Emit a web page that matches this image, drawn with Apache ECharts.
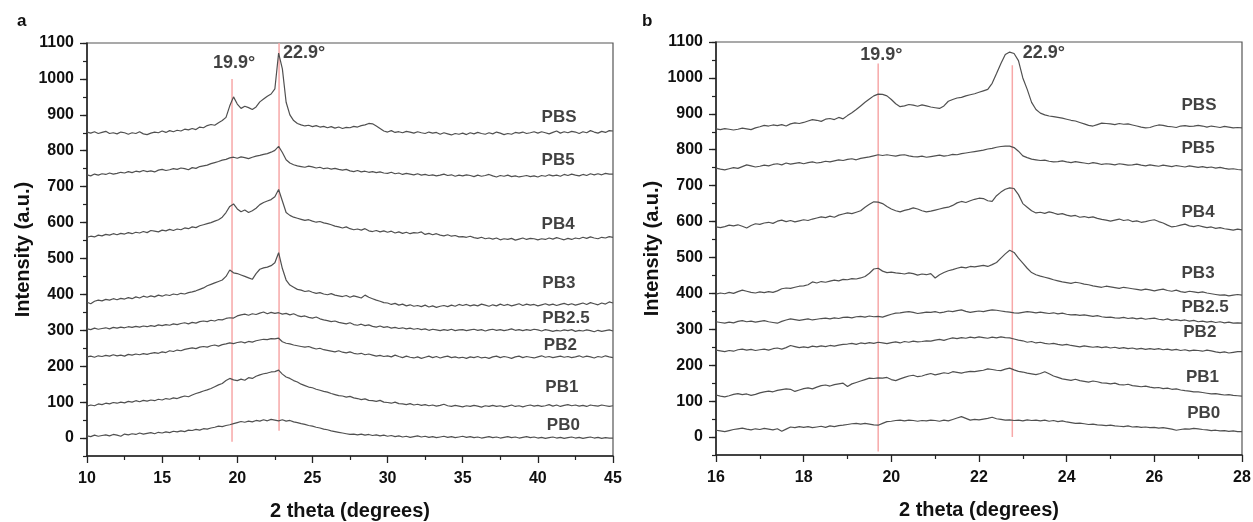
<!DOCTYPE html>
<html>
<head>
<meta charset="utf-8">
<script src="https://cdn.jsdelivr.net/npm/echarts@6/dist/echarts.min.js"></script>
<style>
html,body{margin:0;padding:0;background:#fff;}
#chart{width:1253px;height:522px;}
</style>
</head>
<body>
<div id="chart"></div>
<script>
// ---------- Panel a (10-45 degrees) ----------
const xL = [10,10.25,10.5,10.75,11,11.25,11.5,11.75,12,12.25,12.5,12.75,13,13.25,13.5,13.75,14,14.25,14.5,14.75,
15,15.25,15.5,15.75,16,16.25,16.5,16.75,17,17.25,17.5,17.75,18,18.25,18.5,18.75,19,19.25,19.5,19.75,
20,20.25,20.5,20.75,21,21.25,21.5,21.75,22,22.25,22.5,22.75,23,23.25,23.5,23.75,24,24.25,24.5,24.75,
25,25.25,25.5,25.75,26,26.25,26.5,26.75,27,27.25,27.5,27.75,28,28.25,28.5,28.75,29,29.25,29.5,29.75,
30,30.25,30.5,30.75,31,31.25,31.5,31.75,32,32.25,32.5,32.75,33,33.25,33.5,33.75,34,34.25,34.5,34.75,
35,35.25,35.5,35.75,36,36.25,36.5,36.75,37,37.25,37.5,37.75,38,38.25,38.5,38.75,39,39.25,39.5,39.75,
40,40.25,40.5,40.75,41,41.25,41.5,41.75,42,42.25,42.5,42.75,43,43.25,43.5,43.75,44,44.25,44.5,44.75,45];

const PBS_L = [852,849,853,848, 851,854,848,850, 847,852,850,846, 850,848,853,847, 845,849,852,850,
855,851,856,853, 857,855,860,858, 862,859,866,864, 870,873,871,878, 884,893,925,950,
930,918,924,920, 915,922,936,944, 952,958,972,1072, 1028,935,900,884, 876,872,869,871,
867,870,866,868, 864,867,863,866, 862,865,864,868, 866,870,872,876, 875,869,862,855,
852,856,851,853, 850,854,852,849, 853,850,848,852, 849,851,846,850, 847,844,848,846,
849,845,850,847, 851,848,846,850, 847,852,849,845, 848,846,851,849, 852,848,850,853,
849,853,850,847, 851,855,849,853, 850,854,852,848, 853,850,856,852, 849,854,851,856, 855];
const PB5_L = [733,730,735,732, 736,734,738,735, 737,740,738,742, 739,743,741,745, 742,744,741,746,
748,745,747,750, 748,752,750,747, 753,751,756,758, 760,764,767,770, 774,776,780,782,
779,783,781,778, 782,785,787,790, 792,796,801,812, 795,775,766,761, 758,756,754,757,
755,752,754,750, 752,749,751,748, 746,748,744,742, 745,741,743,740, 742,739,741,738,
737,740,736,738, 734,737,735,733, 736,732,734,731, 733,730,732,735, 731,733,729,732,
730,733,731,728, 732,729,731,734, 730,727,731,729, 732,728,730,727, 729,731,728,730,
727,731,729,733, 730,732,729,734, 731,735,732,730, 734,731,736,733, 736,733,737,735, 735];
const PB4_L = [559,562,560,565, 563,567,565,569, 566,570,568,572, 569,573,571,575, 572,578,576,574,
579,577,581,578, 582,580,585,583, 588,586,591,594, 597,600,604,608, 615,628,645,652,
638,630,635,628, 633,640,650,656, 660,664,672,692, 660,628,620,615, 612,609,606,608,
604,601,603,599, 597,594,590,588, 585,588,583,580, 582,579,583,577, 575,578,574,577,
573,576,571,574, 570,573,569,572, 571,574,567,570, 566,569,565,563, 566,562,564,560,
561,559,562,558, 556,559,555,557, 554,557,552,555, 553,556,551,554, 557,553,556,555,
552,555,553,557, 554,558,555,552, 556,553,557,555, 559,556,560,557, 555,559,557,561, 559];
const PB3_L = [378,374,381,384, 382,386,384,388, 385,389,387,391, 388,393,390,395, 392,396,393,398,
395,399,397,401, 399,403,401,405, 407,410,414,418, 424,428,432,436, 440,450,468,460,
458,454,450,446, 442,458,470,474, 476,480,488,516, 472,440,426,420, 414,412,408,410,
406,403,405,401, 399,402,398,396, 394,397,392,396, 393,390,398,392, 388,384,381,377,
376,372,375,370, 373,368,371,367, 369,366,370,365, 368,364,367,369, 366,370,367,372,
369,372,368,371, 368,373,370,367, 371,368,373,369, 372,368,371,374, 369,373,370,372,
368,371,374,370, 373,369,372,375, 371,374,370,373, 376,372,377,374, 371,376,373,379, 376];
const PB25_L = [304,302,306,303, 305,307,304,308, 306,309,307,310, 308,311,309,312, 310,313,311,315,
313,316,314,318, 316,319,321,318, 322,320,324,326, 324,328,326,330, 329,333,335,334,
340,343,345,342, 346,344,348,351, 346,350,347,349, 345,347,343,346, 341,338,340,336,
334,337,332,329, 327,324,326,322, 320,318,321,316, 314,317,313,315, 311,309,312,308,
310,306,308,305, 307,304,306,303, 305,302,304,300, 303,301,299,302, 300,303,299,301,
302,299,301,303, 300,302,298,301, 303,300,302,299, 301,304,300,302, 299,302,300,303,
301,298,302,300, 297,300,298,301, 299,302,297,300, 298,301,299,296, 300,297,299,301, 298];
const PB2_L = [226,228,225,229, 227,230,228,232, 229,231,228,233, 231,234,232,235, 233,236,238,236,
240,238,243,241, 245,243,247,249, 251,249,253,255, 253,257,259,256, 260,262,265,263,
266,268,265,269, 267,271,273,275, 274,277,276,278, 268,264,262,259, 257,255,253,255,
251,248,250,246, 244,242,240,243, 239,237,240,236, 234,236,232,234, 231,228,230,227,
229,226,231,227, 224,228,225,223, 226,222,225,228, 224,227,223,226, 228,224,226,223,
225,222,226,224, 227,223,225,222, 226,228,224,227, 225,222,226,228, 224,227,225,223,
226,229,225,227, 224,226,228,225, 227,224,226,229, 225,228,226,223, 227,225,229,226, 224];
const PB1_L = [89,92,90,95, 93,97,95,99, 97,100,98,102, 100,104,101,105, 103,106,104,108,
106,110,108,112, 110,114,117,115, 120,124,127,131, 134,138,143,148, 152,160,166,162,
160,164,161,168, 166,172,176,179, 181,184,185,189, 178,170,166,160, 156,150,146,142,
140,136,133,130, 128,124,121,118, 117,114,116,112, 110,107,109,105, 104,102,105,100,
99,97,100,96, 95,93,96,92, 94,91,93,90, 92,89,91,94, 90,88,91,89,
87,90,88,91, 89,86,90,88, 91,88,90,87, 89,92,88,90, 87,90,92,89,
91,88,90,93, 89,92,88,91, 93,90,92,89, 91,88,92,90, 89,92,90,88, 90];
const PB0_L = [6,4,8,5, 7,9,6,10, 8,5,11,9, 12,10,14,11, 13,15,12,16,
14,17,15,19, 17,20,18,22, 21,24,22,26, 25,28,30,33, 32,35,37,40,
43,46,44,47, 45,49,47,51, 48,52,50,48, 51,47,49,45, 43,40,38,35,
33,30,28,25, 23,20,18,16, 14,12,10,11, 9,11,8,10, 7,9,6,8,
5,7,4,6, 3,5,2,4, 6,3,5,2, 4,1,3,5, 2,4,1,3,
5,2,4,1, 3,0,2,4, 1,3,0,2, 4,1,3,0, 2,4,1,3,
0,2,-1,1, 3,0,2,-1, 1,3,0,2, -1,1,3,0, 2,-1,1,0, 0];

// ---------- Panel b (16-28 degrees) ----------
const xR = [16,16.1,16.2,16.3,16.4,16.5,16.6,16.7,16.8,16.9,17,17.1,17.2,17.3,17.4,17.5,17.6,17.7,17.8,17.9,
18,18.1,18.2,18.3,18.4,18.5,18.6,18.7,18.8,18.9,19,19.1,19.2,19.3,19.4,19.5,19.6,19.7,19.8,19.9,
20,20.1,20.2,20.3,20.4,20.5,20.6,20.7,20.8,20.9,21,21.1,21.2,21.3,21.4,21.5,21.6,21.7,21.8,21.9,
22,22.1,22.2,22.3,22.4,22.5,22.6,22.7,22.8,22.9,23,23.1,23.2,23.3,23.4,23.5,23.6,23.7,23.8,23.9,
24,24.1,24.2,24.3,24.4,24.5,24.6,24.7,24.8,24.9,25,25.1,25.2,25.3,25.4,25.5,25.6,25.7,25.8,25.9,
26,26.1,26.2,26.3,26.4,26.5,26.6,26.7,26.8,26.9,27,27.1,27.2,27.3,27.4,27.5,27.6,27.7,27.8,27.9,28];

const PBS_R = [858,856,859,857,855,857,860,858,856,861, 864,868,866,869,867,870,866,872,875,873,
876,880,884,882,879,885,887,884,890,886, 895,903,912,922,932,941,950,955,954,950,
940,928,920,922,926,924,921,925,922,919, 917,915,922,935,940,944,946,950,953,956,
960,964,968,985,1012,1040,1065,1072,1068,1048, 1000,968,932,912,902,897,894,892,890,888,
885,882,880,876,872,868,866,870,874,873, 872,870,873,871,872,869,866,863,861,862,
866,869,868,865,864,862,866,867,865,866, 868,866,863,866,864,862,865,863,861,862, 861];
const PB5_R = [749,746,744,747,750,748,753,758,755,752, 754,757,755,759,761,758,763,760,762,764,
761,764,766,763,765,768,766,769,772,770, 773,775,772,776,778,780,783,786,784,786,
784,782,785,786,783,781,780,782,779,781, 783,785,782,784,787,786,789,791,793,795,
797,799,802,804,807,809,810,810,806,796, 783,778,774,772,770,771,768,766,767,769,
766,764,767,765,763,761,764,762,759,761, 760,758,761,759,757,758,760,757,755,758,
756,754,757,755,753,756,754,752,755,753, 751,753,750,752,749,751,748,746,747,745, 744];
const PB4_R = [585,583,586,590,588,591,587,582,589,594, 592,596,598,595,601,604,600,603,599,602,
605,603,607,610,613,611,615,612,618,621, 624,622,626,630,640,648,655,654,650,642,
635,630,627,631,634,638,635,630,627,629, 632,635,638,640,645,652,656,653,658,662,
665,664,658,656,672,682,690,694,692,675, 650,640,630,624,626,623,627,624,620,622,
618,615,617,612,614,611,613,609,606,604, 601,604,607,603,605,600,602,598,600,603,
605,600,596,590,585,587,590,593,588,586, 589,586,583,585,581,583,580,578,576,579, 577];
const PB3_R = [398,401,399,403,400,405,409,406,403,401, 404,402,405,403,407,413,415,414,417,420,
421,424,432,429,433,431,434,437,435,439, 438,441,440,443,447,456,468,470,462,458,
459,457,456,454,457,455,451,454,452,455, 443,452,458,463,466,470,473,471,475,474,
476,478,475,480,486,498,510,520,514,498, 484,470,458,452,448,445,442,438,435,432,
430,428,431,429,426,424,421,419,417,420, 418,416,414,417,415,413,411,409,412,410,
407,410,412,408,406,409,405,403,406,404, 402,404,401,399,397,395,396,393,395,397, 395];
const PB25_R = [321,319,317,320,318,322,324,321,323,320, 322,324,321,319,317,322,326,329,327,325,
327,329,326,328,330,331,329,332,330,333, 334,332,335,336,334,337,335,336,334,338,
342,345,346,348,349,347,344,346,348,347, 349,346,348,351,349,352,354,350,347,349,
351,349,352,354,353,351,349,348,346,345, 347,349,348,346,348,346,344,346,343,345,
342,340,341,339,340,338,336,338,335,333, 334,332,331,333,330,332,329,331,328,330,
331,328,326,329,325,327,324,326,323,325, 321,323,320,322,319,321,318,320,317,318, 317];
const PB2_R = [242,240,238,241,239,243,245,242,244,241, 243,245,242,246,248,245,249,255,252,249,
251,249,253,251,254,252,255,253,256,258, 259,261,258,262,260,263,261,264,262,260,
263,265,262,266,264,267,265,266,268,267, 270,272,269,273,276,274,277,275,278,276,
279,277,275,278,276,279,277,276,273,270, 268,264,266,262,264,261,259,261,258,256,
258,255,253,251,254,252,250,252,249,251, 248,250,247,249,246,248,245,247,244,246,
244,246,243,245,242,244,241,243,240,242, 241,239,242,240,237,235,237,234,236,238, 238];
const PB1_R = [117,114,112,115,119,121,118,120,116,119, 123,126,128,126,130,132,134,133,127,131,
135,137,134,139,143,145,142,146,148,150, 141,148,152,156,160,164,163,165,164,166,
160,157,162,166,170,172,168,170,174,177, 173,176,179,177,182,180,178,181,183,182,
184,186,190,188,186,185,189,192,187,183, 181,178,176,174,177,182,176,170,166,162,
160,158,161,157,155,153,156,154,151,150, 148,150,146,145,147,143,142,140,142,139,
137,138,135,136,133,134,131,129,128,126, 126,124,122,120,121,119,117,118,116,115, 114];
const PB0_R = [19,17,15,18,21,23,25,22,20,23, 21,24,22,20,23,16,22,28,26,29,
27,29,26,28,30,27,31,29,32,33, 35,37,38,36,38,36,34,33,38,43,
44,46,47,45,47,46,44,46,45,47, 46,44,47,45,49,53,57,52,47,49,
48,50,52,55,51,49,47,48,46,47, 45,48,46,47,45,47,44,46,43,45,
42,40,38,39,37,35,36,34,33,32, 33,31,30,29,31,28,29,27,28,26,
27,25,26,24,22,19,21,23,22,24, 23,21,20,18,19,17,18,16,17,15, 15];

// Sample names and where their tags sit [x, y]
const names = ['PBS','PB5','PB4','PB3','PB2.5','PB2','PB1','PB0'];
const tagsL = [[40.25,894],[40.25,772],[40.25,596],[40.3,432],[40.3,334],[40.4,259],[40.5,142],[40.6,36]];
const tagsR = [[26.62,925],[26.62,805],[26.62,627],[26.62,457],[26.62,362],[26.66,292],[26.72,167],[26.75,67]];
const seriesL = [PBS_L,PB5_L,PB4_L,PB3_L,PB25_L,PB2_L,PB1_L,PB0_L];
const seriesR = [PBS_R,PB5_R,PB4_R,PB3_R,PB25_R,PB2_R,PB1_R,PB0_R];

// Reference peak lines [x, yStart, yEnd] and peak labels [x, y, text]
const peakLinesL = [[19.65,-10,1000],[22.78,20,1100]];
const peakLinesR = [[19.70,-40,1040],[22.76,0,1035]];
const peakTagsL = [[18.38,1045,'19.9°'],[23.04,1072,'22.9°']];
const peakTagsR = [[19.29,1064,'19.9°'],[23.0,1070,'22.9°']];

const yTicks = [0,100,200,300,400,500,600,700,800,900,1000,1100];

const FONT = '"Liberation Sans", Arial, Helvetica, sans-serif';
const chart = echarts.init(document.getElementById('chart'), null, {renderer:'canvas'});

function xAxisCfg(gi, min, max, interval){
  return {
    gridIndex: gi, type:'value', min:min, max:max, interval:interval,
    axisLine:{show:true, onZero:false, lineStyle:{color:'#222', width:1.5}},
    axisTick:{show:true, inside:false, length:7, lineStyle:{color:'#222', width:1.3}},
    minorTick:{show:true, splitNumber:2, length:4, lineStyle:{color:'#222', width:1.2}},
    splitLine:{show:false},
    axisLabel:{fontFamily:FONT, fontSize:16, fontWeight:'bold', color:'#111', margin:15},
    name:'2 theta (degrees)', nameLocation:'middle', nameGap:45,
    nameTextStyle:{fontFamily:FONT, fontSize:20, fontWeight:'bold', color:'#111'}
  };
}
function yAxisMain(gi){
  return {
    gridIndex: gi, type:'value', position:'left', min:-50, max:1100, interval:50,
    axisLine:{show:true, onZero:false, lineStyle:{color:'#222', width:1.5}},
    axisTick:{show:true, inside:false, length:7, customValues:yTicks, lineStyle:{color:'#222', width:1.3}},
    splitLine:{show:false},
    axisLabel:{fontFamily:FONT, fontSize:16, fontWeight:'bold', color:'#111', margin:13,
      customValues:yTicks,
      formatter: v => (v >= 0 && v % 100 === 0) ? String(v) : ''},
    name:'Intensity (a.u.)', nameLocation:'middle', nameGap:54,
    nameTextStyle:{fontFamily:FONT, fontSize:20, fontWeight:'bold', color:'#111'}
  };
}
function yAxisMinor(gi){
  return {
    gridIndex: gi, type:'value', position:'left', offset:0, min:-50, max:1100, interval:50,
    axisLine:{show:false}, splitLine:{show:false},
    axisTick:{show:true, inside:false, length:4, lineStyle:{color:'#222', width:1.2}},
    axisLabel:{show:false}
  };
}

const series = [];
function addPanel(gi, xs, ys, tags, lines, ptags){
  const xi = gi, yi = gi*2;
  lines.forEach(l => series.push({
    type:'line', xAxisIndex:xi, yAxisIndex:yi, data:[[l[0],l[1]],[l[0],l[2]]],
    symbol:'none', silent:true, z:1,
    lineStyle:{color:'#f7a8a8', width:1.5}
  }));
  ys.forEach((arr, k) => series.push({
    type:'line', name:names[k], xAxisIndex:xi, yAxisIndex:yi,
    data: xs.map((x,i)=>[x, arr[i]]),
    symbol:'none', z:3, lineStyle:{color:'#505050', width:1.2}
  }));
  series.push({
    type:'scatter', xAxisIndex:xi, yAxisIndex:yi, symbolSize:0, z:5, silent:true,
    itemStyle:{color:'#111'},
    data: tags.map((t,k)=>[t[0], t[1], names[k]]),
    label:{show:true, position:'right', distance:0, formatter:p=>p.value[2],
      fontFamily:FONT, fontSize:17, fontWeight:'bold', color:'#111'}
  });
  series.push({
    type:'scatter', xAxisIndex:xi, yAxisIndex:yi, symbolSize:0, z:5, silent:true,
    itemStyle:{color:'#111'},
    data: ptags.map(t=>[t[0], t[1], t[2]]),
    label:{show:true, position:'right', distance:0, formatter:p=>p.value[2],
      fontFamily:FONT, fontSize:18, fontWeight:'bold', color:'#111'}
  });
}
addPanel(0, xL, seriesL, tagsL, peakLinesL, peakTagsL);
addPanel(1, xR, seriesR, tagsR, peakLinesR, peakTagsR);

chart.setOption({
  animation:false,
  backgroundColor:'#fff',
  grid:[
    {left:87, top:43, width:526, height:413, containLabel:false, outerBoundsMode:'none',
     show:true, borderColor:'#555', borderWidth:1.2, backgroundColor:'transparent'},
    {left:716, top:42, width:526, height:413, containLabel:false, outerBoundsMode:'none',
     show:true, borderColor:'#555', borderWidth:1.2, backgroundColor:'transparent'}
  ],
  xAxis:[xAxisCfg(0,10,45,5), xAxisCfg(1,16,28,2)],
  yAxis:[yAxisMain(0), yAxisMinor(0), yAxisMain(1), yAxisMinor(1)],
  graphic:[
    {type:'text', left:17, top:13, style:{text:'a', font:'bold 17px '+FONT, fill:'#111'}},
    {type:'text', left:642, top:13, style:{text:'b', font:'bold 17px '+FONT, fill:'#111'}}
  ],
  series: series
});
</script>
</body>
</html>
